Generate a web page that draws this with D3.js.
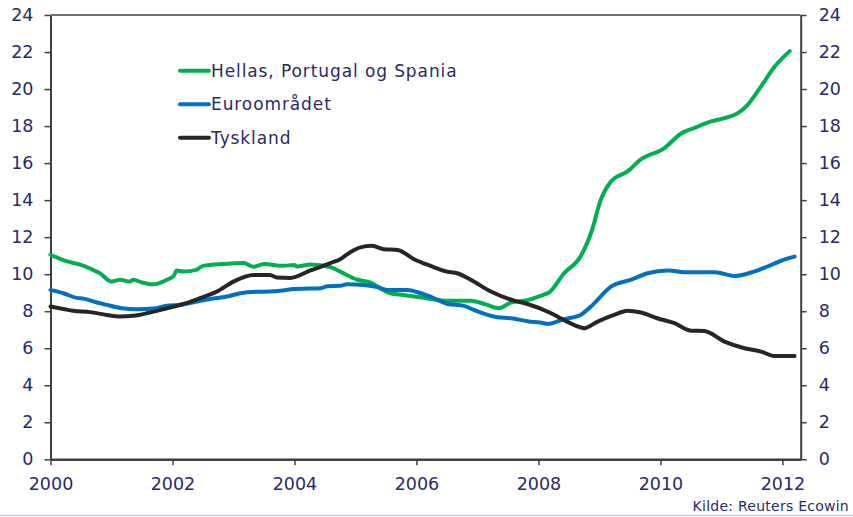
<!DOCTYPE html>
<html>
<head>
<meta charset="utf-8">
<script src="https://cdn.jsdelivr.net/npm/d3@7"></script>
<style>
  html, body { margin: 0; padding: 0; background: #fff; }
  svg { display: block; }
  text { font-family: "DejaVu Sans", Verdana, sans-serif; fill: #29296b; }
</style>
</head>
<body>
<svg id="chart" width="853" height="517"></svg>
<script>
// ---- data (decimal years, percent) ----
const seriesNames = ["Hellas, Portugal og Spania", "Euroområdet", "Tyskland"];
const seriesColors = ["#00b050", "#0070c0", "#262626"];

const greenYears = [2000.0,2000.26,2000.5,2000.65,2000.81,2001.0,2001.14,2001.3,2001.36,2001.5,2001.69,2001.91,2002.02,2002.07,2002.18,2002.4,2002.5,2002.84,2003.17,2003.33,2003.5,2003.82,2004.0,2004.04,2004.26,2004.59,2004.75,2005.03,2005.25,2005.36,2005.57,2005.79,2006.12,2006.5,2006.89,2007.16,2007.35,2007.55,2007.82,2008.09,2008.17,2008.42,2008.69,2008.88,2009.02,2009.19,2009.46,2009.68,2010.06,2010.34,2010.56,2010.83,2011.05,2011.27,2011.43,2011.65,2011.87,2012.12];
const greenValues = [11.05,10.7,10.5,10.3,10.05,9.6,9.7,9.6,9.7,9.55,9.45,9.7,9.9,10.2,10.14,10.25,10.45,10.55,10.6,10.4,10.55,10.45,10.5,10.42,10.52,10.38,10.14,9.7,9.55,9.33,8.97,8.88,8.72,8.56,8.57,8.34,8.16,8.47,8.6,8.9,9.0,10.05,10.95,12.4,14.0,15.0,15.55,16.2,16.8,17.6,17.9,18.25,18.43,18.7,19.15,20.14,21.2,22.05];

const blueYears = [2000.0,2000.21,2000.43,2000.54,2000.76,2000.92,2001.17,2001.42,2001.69,2001.91,2002.13,2002.4,2002.62,2002.89,2003.11,2003.39,2003.6,2003.77,2003.99,2004.23,2004.43,2004.54,2004.75,2004.86,2005.13,2005.36,2005.52,2005.85,2006.07,2006.29,2006.5,2006.78,2006.94,2007.33,2007.55,2007.82,2008.09,2008.15,2008.42,2008.69,2008.86,2009.19,2009.52,2009.79,2010.12,2010.45,2010.89,2011.22,2011.49,2011.82,2012.04,2012.2];
const blueValues = [9.15,8.97,8.72,8.68,8.47,8.34,8.16,8.1,8.14,8.3,8.34,8.52,8.66,8.79,8.97,9.05,9.06,9.1,9.2,9.22,9.24,9.35,9.37,9.45,9.42,9.3,9.15,9.15,8.97,8.7,8.4,8.29,8.07,7.67,7.62,7.46,7.35,7.31,7.57,7.8,8.25,9.33,9.7,10.05,10.2,10.1,10.1,9.9,10.09,10.5,10.8,10.95];

const blackYears = [2000.0,2000.21,2000.37,2000.65,2000.92,2001.14,2001.36,2001.63,2001.91,2002.18,2002.45,2002.73,2003.0,2003.33,2003.6,2003.71,2003.93,2004.26,2004.59,2004.75,2004.92,2005.08,2005.27,2005.47,2005.69,2005.96,2006.23,2006.5,2006.67,2006.89,2007.22,2007.6,2007.82,2008.18,2008.31,2008.58,2008.75,2008.97,2009.24,2009.46,2009.68,2009.95,2010.23,2010.5,2010.72,2011.05,2011.38,2011.65,2011.87,2012.2];
const blackValues = [8.25,8.12,8.02,7.95,7.8,7.71,7.75,7.93,8.16,8.39,8.7,9.06,9.6,9.96,9.96,9.82,9.8,10.2,10.6,10.81,11.2,11.45,11.53,11.35,11.31,10.81,10.45,10.14,10.05,9.7,9.06,8.57,8.39,7.93,7.71,7.26,7.08,7.44,7.8,8.03,7.93,7.62,7.35,6.95,6.93,6.36,6.0,5.82,5.58,5.58];

const xTickLabels = [2000, 2002, 2004, 2006, 2008, 2010, 2012];
const yTickLabels = [0, 2, 4, 6, 8, 10, 12, 14, 16, 18, 20, 22, 24];
const sourceText = "Kilde: Reuters Ecowin";

// ---- layout ----
const svg = d3.select("#chart");
const plotLeft = 50.5, plotRight = 800.7, plotTop = 15, plotBottom = 459.3;
const axisColor = "#404040";

const x = d3.scaleLinear().domain([2000, 2012.3]).range([plotLeft, plotRight]);
const y = d3.scaleLinear().domain([0, 24]).range([plotBottom, plotTop]);

// top frame line
svg.append("line").attr("x1", plotLeft).attr("x2", plotRight).attr("y1", plotTop).attr("y2", plotTop)
  .attr("stroke", axisColor).attr("stroke-width", 1.5);

// left axis
const gL = svg.append("g").attr("transform", `translate(${plotLeft},0)`)
  .call(d3.axisLeft(y).tickValues(yTickLabels).tickSize(6).tickPadding(11).tickSizeOuter(0));
// right axis
const gR = svg.append("g").attr("transform", `translate(${plotRight},0)`)
  .call(d3.axisRight(y).tickValues(yTickLabels).tickSize(6).tickPadding(12).tickSizeOuter(0));
// bottom axis
const gB = svg.append("g").attr("transform", `translate(0,${plotBottom})`)
  .call(d3.axisBottom(x).tickValues(xTickLabels).tickFormat(d3.format("d")).tickSize(6).tickPadding(12).tickSizeOuter(0));

[gL, gR, gB].forEach(g => {
  g.selectAll(".domain").attr("stroke", axisColor).attr("stroke-width", 2);
  g.selectAll(".tick line").attr("stroke", axisColor).attr("stroke-width", 1.5);
  g.selectAll("text").attr("font-size", 17.5).attr("fill", "#29296b")
    .attr("font-family", "DejaVu Sans, Verdana, sans-serif");
});
gB.select(".domain").attr("stroke-width", 2.5);

// series lines
const series = [
  { name: seriesNames[0], color: seriesColors[0], xs: greenYears, ys: greenValues },
  { name: seriesNames[1], color: seriesColors[1], xs: blueYears, ys: blueValues },
  { name: seriesNames[2], color: seriesColors[2], xs: blackYears, ys: blackValues }
];
const line = d3.line().x(d => x(d[0])).y(d => y(d[1])).curve(d3.curveMonotoneX);
series.forEach(s => {
  const pts = s.xs.map((v, i) => [v, s.ys[i]]);
  svg.append("path").datum(pts).attr("d", line)
    .attr("fill", "none").attr("stroke", s.color).attr("stroke-width", 4)
    .attr("stroke-linejoin", "round").attr("stroke-linecap", "round");
});

// legend
const legY = [70.7, 104.3, 137.7];
series.forEach((s, i) => {
  svg.append("line").attr("x1", 180).attr("x2", 209).attr("y1", legY[i]).attr("y2", legY[i])
    .attr("stroke", s.color).attr("stroke-width", 4).attr("stroke-linecap", "round");
  svg.append("text").attr("x", 211).attr("y", legY[i]).attr("dy", "0.36em")
    .attr("font-size", 17).attr("letter-spacing", 0.9).text(s.name);
});

// source
svg.append("text").attr("x", 849).attr("y", 511).attr("text-anchor", "end")
  .attr("font-size", 14).attr("letter-spacing", 0.25).text(sourceText);

// bottom thin line
svg.append("line").attr("x1", 0).attr("x2", 853).attr("y1", 515.5).attr("y2", 515.5)
  .attr("stroke", "#c8c8e0").attr("stroke-width", 1.5);
</script>
</body>
</html>
